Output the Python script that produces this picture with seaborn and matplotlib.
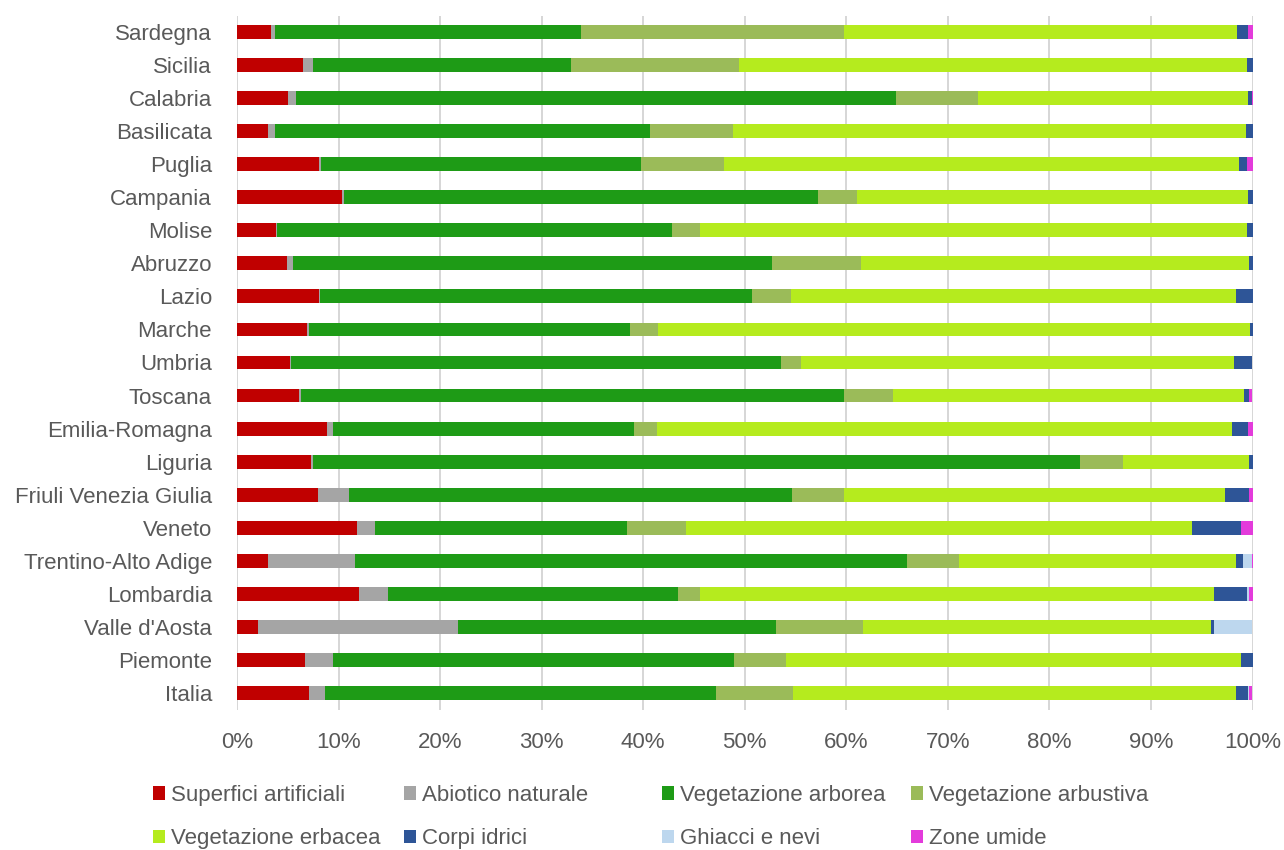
import numpy as np
import pandas as pd
import matplotlib
matplotlib.use("Agg")
import matplotlib.pyplot as plt
from matplotlib.patches import Patch
import seaborn as sns

# Regions, top to bottom
regioni = ["Sardegna", "Sicilia", "Calabria", "Basilicata", "Puglia", "Campania",
           "Molise", "Abruzzo", "Lazio", "Marche", "Umbria", "Toscana",
           "Emilia-Romagna", "Liguria", "Friuli Venezia Giulia", "Veneto",
           "Trentino-Alto Adige", "Lombardia", "Valle d'Aosta", "Piemonte", "Italia"]

# Land cover shares (%) per region
superfici_artificiali = [3.3, 6.5, 5.0, 3.1, 8.1, 10.35, 3.85, 4.9, 8.05, 6.9, 5.2, 6.15,
                         8.9, 7.3, 7.95, 11.8, 3.1, 12.05, 2.1, 6.65, 7.1]
abiotico_naturale = [0.4, 1.0, 0.85, 0.6, 0.2, 0.2, 0.1, 0.6, 0.15, 0.15, 0.1, 0.15,
                     0.6, 0.15, 3.1, 1.8, 8.55, 2.85, 19.7, 2.85, 1.6]
vegetazione_arborea = [30.2, 25.4, 59.0, 37.0, 31.5, 46.65, 38.85, 47.2, 42.5, 31.65, 48.3, 53.5,
                       29.6, 75.55, 43.6, 24.8, 54.35, 28.55, 31.25, 39.4, 38.5]
vegetazione_arbustiva = [25.85, 16.5, 8.15, 8.1, 8.2, 3.9, 2.8, 8.7, 3.9, 2.8, 1.9, 4.8,
                         2.25, 4.25, 5.15, 5.8, 5.05, 2.1, 8.55, 5.15, 7.6]
vegetazione_erbacea = [38.7, 50.1, 26.55, 50.6, 50.7, 38.5, 53.9, 38.25, 43.8, 58.25, 42.7, 34.6,
                       56.65, 12.4, 37.5, 49.85, 27.3, 50.7, 34.3, 44.8, 43.55]
corpi_idrici = [1.15, 0.5, 0.4, 0.6, 0.8, 0.4, 0.5, 0.35, 1.6, 0.25, 1.8, 0.5,
                1.6, 0.35, 2.35, 4.85, 0.7, 3.25, 0.35, 1.15, 1.25]
ghiacci_e_nevi = [0, 0, 0, 0, 0, 0, 0, 0, 0, 0, 0, 0,
                  0, 0, 0, 0, 0.9, 0.2, 3.75, 0, 0.1]
zone_umide = [0.4, 0, 0.05, 0, 0.5, 0, 0, 0, 0, 0, 0, 0.3,
              0.4, 0, 0.35, 1.1, 0.05, 0.3, 0, 0, 0.3]

classi = ["Superfici artificiali", "Abiotico naturale", "Vegetazione arborea",
          "Vegetazione arbustiva", "Vegetazione erbacea", "Corpi idrici",
          "Ghiacci e nevi", "Zone umide"]
colori = ["#C00000", "#A5A5A5", "#1E9B16", "#9BBB59", "#B5EB1E", "#2E5597",
          "#BDD7EE", "#E33BDB"]

series = [superfici_artificiali, abiotico_naturale, vegetazione_arborea,
          vegetazione_arbustiva, vegetazione_erbacea, corpi_idrici,
          ghiacci_e_nevi, zone_umide]

df = pd.DataFrame({c: s for c, s in zip(classi, series)}, index=regioni)
cum = df.cumsum(axis=1)

sns.set_theme(style="white")
plt.rcParams["font.family"] = ["Liberation Sans", "DejaVu Sans"]
text_color = "#595959"

fig = plt.figure(figsize=(12.84, 8.5), dpi=100)
ax = fig.add_axes([237 / 1284, 1 - 709.5 / 850, (1252.5 - 237) / 1284, (709.5 - 15.5) / 850])

# Stacked bars: draw cumulative totals from the outermost class inward
for classe, colore in zip(classi[::-1], colori[::-1]):
    sns.barplot(x=cum[classe].values, y=regioni, order=regioni, orient="h",
                color=colore, saturation=1, width=0.42, ax=ax, zorder=3,
                linewidth=0, errorbar=None)

ax.set_xlim(0, 100)
ax.set_xticks(np.arange(0, 101, 10))
ax.set_xticklabels([f"{v}%" for v in range(0, 101, 10)])
ax.xaxis.grid(True, color="#D6D6D6", linewidth=1.4, zorder=0)
ax.yaxis.grid(False)
ax.set_axisbelow(True)
for s in ax.spines.values():
    s.set_visible(False)
ax.set_xlabel("")
ax.set_ylabel("")
ax.tick_params(axis="y", length=0, pad=18, labelsize=16, labelcolor=text_color)
ax.tick_params(axis="x", length=0, pad=16.5, labelsize=16, labelcolor=text_color)

# Legend laid out in four evenly spaced columns of two entries
handles = [Patch(facecolor=c, edgecolor="none") for c in colori]
col_x = [153, 404, 662, 911]
for i, x in enumerate(col_x):
    leg = fig.legend([handles[i], handles[i + 4]], [classi[i], classi[i + 4]],
                     loc="upper left", bbox_to_anchor=(x / 1284, 1 - 785 / 850),
                     frameon=False, fontsize=16, borderpad=0, borderaxespad=0,
                     handlelength=0.55, handleheight=0.55, handletextpad=0.25,
                     labelspacing=1.0)
    for t in leg.get_texts():
        t.set_color(text_color)

fig.savefig("out.png", dpi=100)
